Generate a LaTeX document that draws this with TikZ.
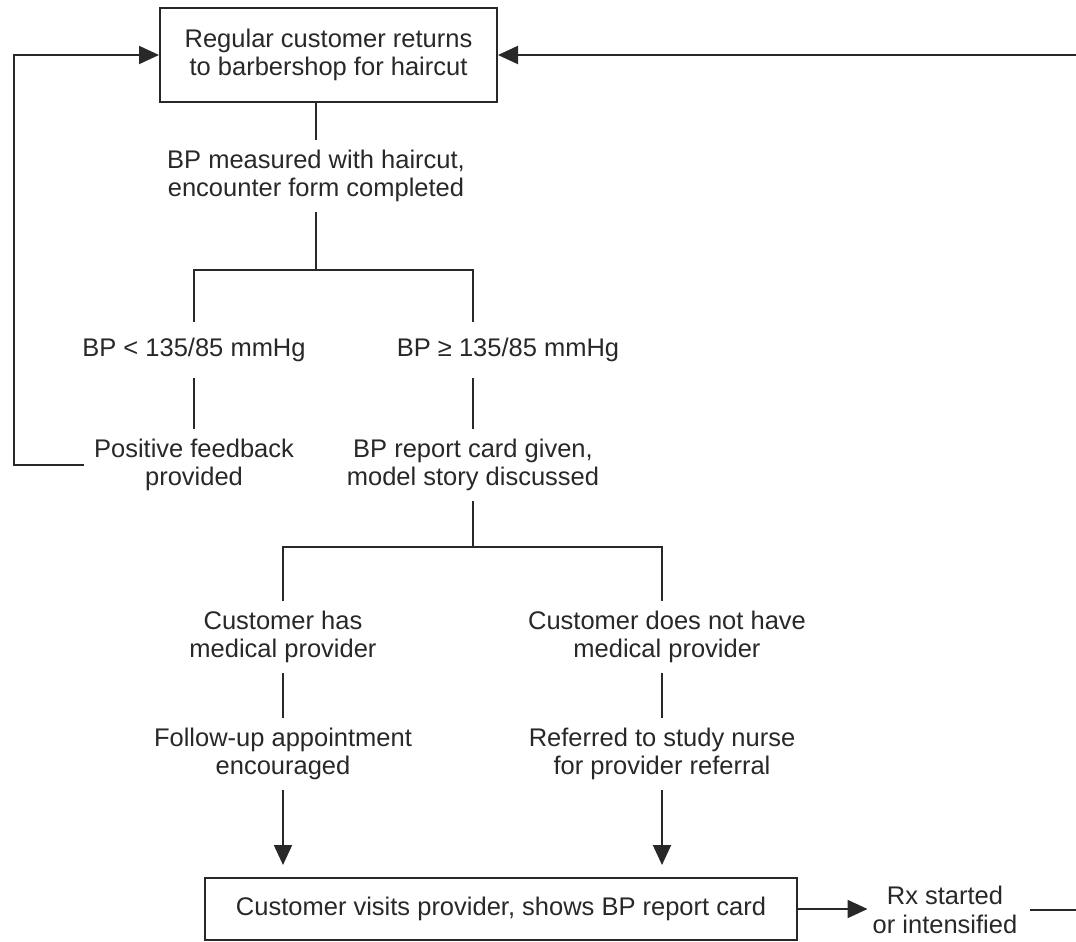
\documentclass[tikz,border=0pt]{standalone}
\usepackage{fontspec}
\setmainfont{Liberation Sans}
\usetikzlibrary{arrows.meta}
\definecolor{ink}{RGB}{40,40,40}
\begin{document}
\begin{tikzpicture}[x=1pt,y=-1pt,
  every node/.style={font=\fontsize{25.5}{28.5}\selectfont, text=ink},
  box/.style={draw=ink, line width=2pt, align=center, inner sep=0},
  txt/.style={align=center, inner sep=0, minimum height=72pt},
  txtone/.style={align=center, inner sep=0, minimum height=56pt},
  conn/.style={draw=ink, line width=2pt},
  arr/.style={conn, -{Triangle[length=20pt,width=18pt]}}
]
\useasboundingbox (0,0) rectangle (1076,942);
% nodes
\node[box, minimum width=337pt, minimum height=94pt] (top) at (328.5,55) {Regular customer returns\\to barbershop for haircut};
\node[txt] (meas) at (316,176) {BP measured with haircut,\\encounter form completed};
\coordinate (j1) at (316,270);
\node[txtone] (lo) at (194,350) {BP < 135/85 mmHg};
\node[txtone] (hi) at (508,350) {BP ≥ 135/85 mmHg};
\node[txt] (pos) at (194,465) {Positive feedback\\provided};
\node[txt] (rep) at (473,465) {BP report card given,\\model story discussed};
\coordinate (j2) at (473,547);
\node[txt] (has) at (283,637) {Customer has\\medical provider};
\node[txt] (nohas) at (667,637) {Customer does not have\\medical provider};
\node[txt] (fol) at (283,754) {Follow-up appointment\\encouraged};
\node[txt] (ref) at (662,754) {Referred to study nurse\\for provider referral};
\node[box, minimum width=592pt, minimum height=62pt] (bot) at (501,909) {Customer visits provider, shows BP report card};
\node[txt] (rx) at (945,910) {Rx started\\or intensified};
\coordinate (lL) at (14,0);
\coordinate (rT) at (1076,55);
\coordinate (rB) at (1076,910);
% connectors
\draw[conn] (meas.north |- top.south) -- (meas.north);
\draw[conn] (meas.south) -- (j1);
\draw[conn] (lo.north) -- (lo.north |- j1) -- (rep.north |- j1) -- (rep.north |- hi.north);
\draw[conn] (lo.south) -- (pos.north);
\draw[conn] (rep.north |- hi.south) -- (rep.north);
\draw[conn] (rep.south) -- (j2);
\draw[conn] (has.north) -- (has.north |- j2) -- (ref.north |- j2) -- (ref.north |- nohas.north);
\draw[conn] (has.south) -- (fol.north);
\draw[conn] (ref.north |- nohas.south) -- (ref.north);
\draw[arr, shorten >=12pt] (fol.south) -- (fol.south |- bot.north);
\draw[arr, shorten >=12pt] (ref.south) -- (ref.south |- bot.north);
\draw[arr, shorten >=5pt] (bot.east) -- (bot.east -| rx.west);
\draw[conn, shorten <=12pt] (rx.east) -- (rB);
\draw[arr] (rT) -- (top.east);
\draw[arr, shorten <=10pt] (pos.west) -- (pos.west -| lL) -- (lL |- top.west) -- (top.west);
\end{tikzpicture}
\end{document}
